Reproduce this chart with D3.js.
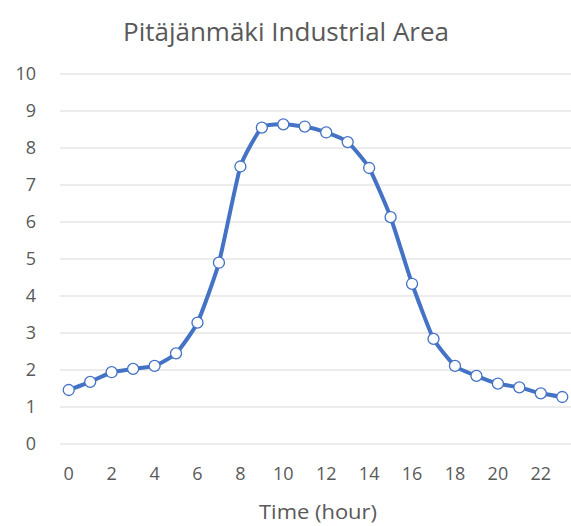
<!DOCTYPE html>
<html>
<head>
<meta charset="utf-8">
<script src="https://cdn.jsdelivr.net/npm/d3@7"></script>
<style>
  body { margin: 0; background: #fff; }
  .lbl { font-family: "Open Sans", sans-serif; fill: #595959; }
</style>
</head>
<body>
<div id="chart"></div>
<script>
// chart data
var hours = d3.range(0, 24);
var loads = [1.46, 1.68, 1.94, 2.03, 2.11, 2.45, 3.28, 4.90, 7.50, 8.55, 8.64, 8.58,
             8.42, 8.16, 7.46, 6.13, 4.33, 2.84, 2.11, 1.84, 1.63, 1.53, 1.37, 1.27];
var yTicks = [0, 1, 2, 3, 4, 5, 6, 7, 8, 9, 10];
var xTickLabels = [0, 2, 4, 6, 8, 10, 12, 14, 16, 18, 20, 22];
var chartTitle = "Pitäjänmäki Industrial Area";
var xTitle = "Time (hour)";

var width = 571, height = 526;
var margin = { top: 74, right: -2, bottom: 82, left: 58 };

var svg = d3.select("#chart").append("svg")
    .attr("width", width)
    .attr("height", height);

var x = d3.scaleBand()
    .domain(hours)
    .range([margin.left, width - margin.right])
    .padding(0);

var y = d3.scaleLinear()
    .domain([0, 10])
    .range([height - margin.bottom, margin.top]);

var cx = function(h) { return x(h) + x.bandwidth() / 2; };

// gridlines
svg.append("g")
  .selectAll("line")
  .data(yTicks)
  .join("line")
    .attr("x1", 60)
    .attr("x2", width)
    .attr("y1", d => y(d))
    .attr("y2", d => y(d))
    .attr("stroke", "#d9d9d9")
    .attr("stroke-width", 1.2);

// y tick labels
svg.append("g")
  .selectAll("text")
  .data(yTicks)
  .join("text")
    .attr("class", "lbl")
    .attr("x", 36)
    .attr("y", d => y(d))
    .attr("dy", "0.35em")
    .attr("text-anchor", "end")
    .attr("font-size", 18)
    .text(d => d);

// x tick labels
svg.append("g")
  .selectAll("text")
  .data(xTickLabels)
  .join("text")
    .attr("class", "lbl")
    .attr("x", d => cx(d))
    .attr("y", 474)
    .attr("dy", "0.35em")
    .attr("text-anchor", "middle")
    .attr("font-size", 18)
    .text(d => d);

// titles
svg.append("text")
    .attr("class", "lbl")
    .attr("x", 286)
    .attr("y", 41)
    .attr("text-anchor", "middle")
    .attr("font-size", 26)
    .attr("textLength", 326)
    .attr("lengthAdjust", "spacingAndGlyphs")
    .text(chartTitle);

svg.append("text")
    .attr("class", "lbl")
    .attr("x", 318)
    .attr("y", 519)
    .attr("text-anchor", "middle")
    .attr("font-size", 20)
    .attr("textLength", 118)
    .attr("lengthAdjust", "spacingAndGlyphs")
    .text(xTitle);

// line
var line = d3.line()
    .x((d, i) => cx(hours[i]))
    .y(d => y(d))
    .curve(d3.curveCardinal.tension(0.5));

svg.append("path")
    .datum(loads)
    .attr("fill", "none")
    .attr("stroke", "#4472c4")
    .attr("stroke-width", 4)
    .attr("stroke-linejoin", "round")
    .attr("d", line);

// markers
svg.append("g")
  .selectAll("circle")
  .data(loads)
  .join("circle")
    .attr("cx", (d, i) => cx(hours[i]))
    .attr("cy", d => y(d))
    .attr("r", 5.5)
    .attr("fill", "#fff")
    .attr("stroke", "#4472c4")
    .attr("stroke-width", 1.3);
</script>
</body>
</html>
